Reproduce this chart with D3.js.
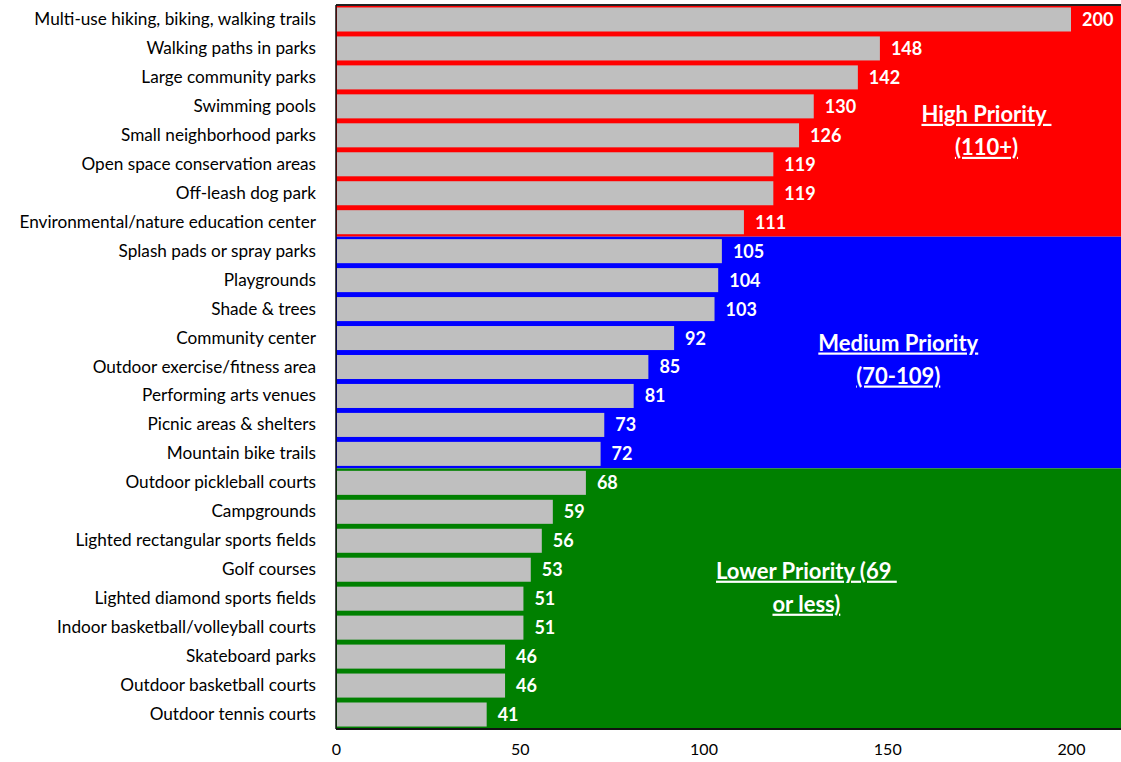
<!DOCTYPE html>
<html>
<head>
<meta charset="utf-8">
<script src="https://cdn.jsdelivr.net/npm/d3@7"></script>
<style>
  body { margin: 0; background: #fff; }
  svg { display: block; font-family: Lato, "Open Sans", sans-serif; }
</style>
</head>
<body>
<div id="chart"></div>
<script>
// facilities in rank order, with their priority score
var categories = [
  "Multi-use hiking, biking, walking trails",
  "Walking paths in parks",
  "Large community parks",
  "Swimming pools",
  "Small neighborhood parks",
  "Open space conservation areas",
  "Off-leash dog park",
  "Environmental/nature education center",
  "Splash pads or spray parks",
  "Playgrounds",
  "Shade & trees",
  "Community center",
  "Outdoor exercise/fitness area",
  "Performing arts venues",
  "Picnic areas & shelters",
  "Mountain bike trails",
  "Outdoor pickleball courts",
  "Campgrounds",
  "Lighted rectangular sports fields",
  "Golf courses",
  "Lighted diamond sports fields",
  "Indoor basketball/volleyball courts",
  "Skateboard parks",
  "Outdoor basketball courts",
  "Outdoor tennis courts"
];
var values = [200, 148, 142, 130, 126, 119, 119, 111, 105, 104, 103, 92, 85, 81, 73, 72, 68, 59, 56, 53, 51, 51, 46, 46, 41];

var xTicks = [0, 50, 100, 150, 200];

// priority bands: first and last category of each band
var bandNames = ["High", "Medium", "Lower"];
var bandFirst = ["Multi-use hiking, biking, walking trails", "Splash pads or spray parks", "Outdoor pickleball courts"];
var bandLast = ["Environmental/nature education center", "Mountain bike trails", "Outdoor tennis courts"];
var bandColors = ["#ff0000", "#0000ff", "#008000"];
var bandLabels = [["High Priority\u00a0", "(110+)"], ["Medium Priority", "(70-109)"], ["Lower Priority (69\u00a0", "or less)"]];
var bandLabelValue = [177, 153, 128]; // x position of the label, in chart units
var bandLabelShift = [1, -2, -20];     // baseline of first line relative to band middle

function drawChart(width, height, id) {
  var margin = { top: 5, left: 336, bottom: 33 };

  var svg = d3.select(id)
    .append("svg")
    .attr("width", width)
    .attr("height", height);

  var x = d3.scaleLinear()
    .domain([0, 250])
    .range([margin.left, margin.left + 250 * (735 / 200)]);

  var y = d3.scaleBand()
    .domain(categories)
    .range([margin.top, height - margin.bottom])
    .paddingInner(0.17)
    .paddingOuter(0.085);

  var step = y.step();
  var rowTop = (c) => margin.top + categories.indexOf(c) * step;

  // title, almost entirely above the picture
  svg.append("text")
    .attr("x", 615)
    .attr("y", -4)
    .attr("text-anchor", "middle")
    .style("font-size", "24px")
    .style("font-weight", "bold")
    .style("fill", "#2e75b6")
    .text("Facility/Amenity Priority Investment Rating");

  // coloured priority bands
  svg.append("g")
    .selectAll("rect")
    .data(bandNames)
    .enter()
    .append("rect")
    .attr("x", x(0))
    .attr("y", (d, i) => rowTop(bandFirst[i]))
    .attr("width", x(250) - x(0))
    .attr("height", (d, i) => rowTop(bandLast[i]) + step - rowTop(bandFirst[i]))
    .style("fill", (d, i) => bandColors[i]);

  // bars
  svg.append("g")
    .selectAll("rect")
    .data(values)
    .enter()
    .append("rect")
    .attr("x", x(0) + 1)
    .attr("y", (d, i) => y(categories[i]))
    .attr("width", (d) => x(d) - x(0) - 1)
    .attr("height", y.bandwidth())
    .style("fill", "#bfbfbf");

  // value labels
  svg.append("g")
    .selectAll("text")
    .data(values)
    .enter()
    .append("text")
    .attr("x", (d) => x(d) + 11)
    .attr("y", (d, i) => y(categories[i]) + y.bandwidth() / 2)
    .attr("dy", "0.36em")
    .style("font-size", "18px")
    .style("font-weight", "bold")
    .style("fill", "#fff")
    .text((d) => d);

  // band labels
  bandNames.forEach(function (b, i) {
    var top = rowTop(bandFirst[i]);
    var mid = (top + rowTop(bandLast[i]) + step) / 2;
    svg.append("text")
      .attr("x", x(bandLabelValue[i]))
      .attr("y", mid + bandLabelShift[i])
      .attr("text-anchor", "middle")
      .style("font-size", "22px")
      .style("font-weight", "bold")
      .style("fill", "#fff")
      .style("text-decoration", "underline")
      .selectAll("tspan")
      .data(bandLabels[i])
      .enter()
      .append("tspan")
      .attr("x", x(bandLabelValue[i]))
      .attr("dy", (d, j) => (j === 0 ? 0 : 33))
      .text((d) => d);
  });

  // category axis
  var yAxis = svg.append("g")
    .attr("transform", "translate(" + x(0) + ",0)")
    .call(d3.axisLeft(y).tickSize(0).tickPadding(20));
  yAxis.select(".domain").remove();
  yAxis.selectAll("text")
    .style("font-family", "Lato, sans-serif")
    .style("font-size", "17.2px")
    .style("fill", "#000");

  // value axis
  var xAxis = svg.append("g")
    .attr("transform", "translate(0," + (height - margin.bottom) + ")")
    .call(d3.axisBottom(x).tickValues(xTicks).tickSize(0).tickPadding(15));
  xAxis.select(".domain").remove();
  xAxis.selectAll("text")
    .style("font-family", "Lato, sans-serif")
    .style("font-size", "16px")
    .style("fill", "#000");

  // plot frame lines
  svg.append("line")
    .attr("x1", x(0)).attr("x2", x(250))
    .attr("y1", margin.top).attr("y2", margin.top)
    .style("stroke", "#222").style("stroke-width", 2);
  svg.append("line")
    .attr("x1", x(0)).attr("x2", x(250))
    .attr("y1", height - margin.bottom).attr("y2", height - margin.bottom)
    .style("stroke", "#111").style("stroke-width", 2);
  svg.append("line")
    .attr("x1", x(0)).attr("x2", x(0))
    .attr("y1", margin.top).attr("y2", height - margin.bottom)
    .style("stroke", "#111").style("stroke-width", 1.5);
}

drawChart(1121, 762, "#chart");
</script>
</body>
</html>
